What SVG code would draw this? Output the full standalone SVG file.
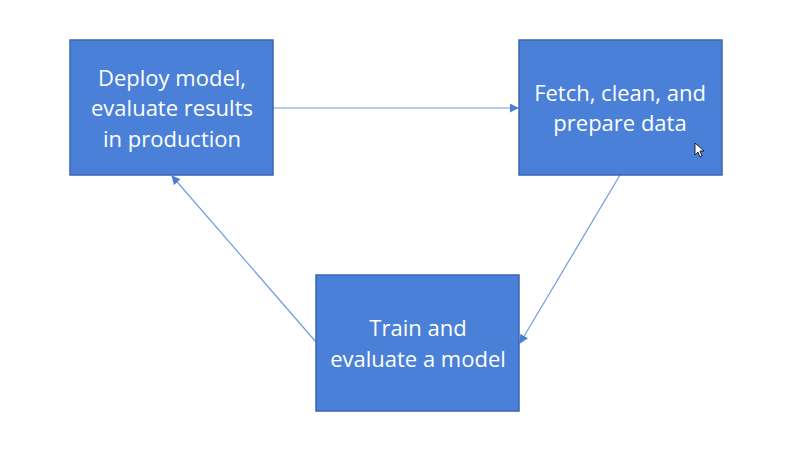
<svg xmlns="http://www.w3.org/2000/svg" width="802" height="454" viewBox="0 0 802 454">
<style>
.box{fill:#4A80D8;stroke:#3A65B0;stroke-width:1.5}
.lbl{font-family:"Open Sans","Noto Sans",sans-serif;font-size:22px;fill:#FFFFFF;text-anchor:middle}
.con{stroke:#6F9BE0;stroke-width:1.2;fill:none;marker-end:url(#ah)}
</style>
<defs>
<marker id="ah" viewBox="0 0 10 10" refX="9" refY="5" markerWidth="9" markerHeight="9" markerUnits="userSpaceOnUse" orient="auto">
<path d="M0,0 L10,5 L0,10 z" fill="#4A7ED4"/>
</marker>
</defs>
<rect width="802" height="454" fill="#FFFFFF"/>
<g id="connectors">
<line class="con" x1="273" y1="108" x2="518" y2="108"/>
<line class="con" x1="620" y1="175" x2="520" y2="343"/>
<line class="con" x1="316" y1="342" x2="172" y2="176"/>
</g>
<g id="deploy">
<rect class="box" x="70" y="40" width="203" height="135"/>
<text class="lbl" x="172" y="86">Deploy model,</text>
<text class="lbl" x="172" y="116">evaluate results</text>
<text class="lbl" x="172" y="147">in production</text>
</g>
<g id="fetch">
<rect class="box" x="519" y="40" width="203" height="135"/>
<text class="lbl" x="620" y="101">Fetch, clean, and</text>
<text class="lbl" x="620" y="131">prepare data</text>
</g>
<g id="train">
<rect class="box" x="316" y="275" width="203" height="136"/>
<text class="lbl" x="418" y="336">Train and</text>
<text class="lbl" x="418" y="367">evaluate a model</text>
</g>
<path d="M695,143 L695,155 L698,152 L700,157 L702,156 L700,151 L704,151 z" fill="#FFFFFF" stroke="#000000" stroke-width="0.8"/>
</svg>
